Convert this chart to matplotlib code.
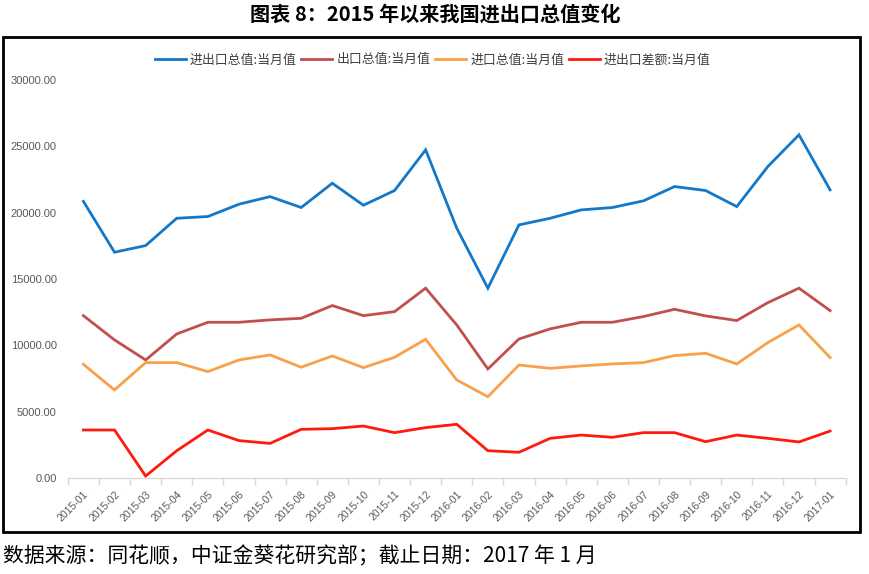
import matplotlib
matplotlib.use("Agg")
import matplotlib.pyplot as plt
from matplotlib.patches import Rectangle

plt.rcParams['font.family'] = ['Noto Sans CJK SC', 'DejaVu Sans']

months = ["2015-01", "2015-02", "2015-03", "2015-04", "2015-05", "2015-06", "2015-07",
          "2015-08", "2015-09", "2015-10", "2015-11", "2015-12", "2016-01", "2016-02",
          "2016-03", "2016-04", "2016-05", "2016-06", "2016-07", "2016-08", "2016-09",
          "2016-10", "2016-11", "2016-12", "2017-01"]

total = [20850, 17020, 17520, 19580, 19710, 20640, 21210, 20390, 22220, 20560, 21670, 24740,
         18830, 14310, 19080, 19580, 20210, 20390, 20890, 21970, 21670, 20460, 23480, 25870, 21720]
exports = [12240, 10410, 8900, 10860, 11740, 11740, 11920, 12040, 13000, 12240, 12540, 14310,
           11540, 8220, 10480, 11240, 11740, 11740, 12170, 12720, 12220, 11870, 13220, 14310, 12620]
imports = [8570, 6640, 8700, 8700, 8020, 8900, 9280, 8350, 9200, 8320, 9100, 10460,
           7390, 6130, 8520, 8270, 8450, 8600, 8700, 9230, 9400, 8600, 10210, 11540, 9080]
balance = [3620, 3620, 150, 2060, 3620, 2820, 2610, 3670, 3720, 3920, 3420, 3800,
           4050, 2060, 1940, 2990, 3240, 3070, 3420, 3420, 2740, 3240, 2990, 2720, 3540]

series_names = ["进出口总值:当月值", "出口总值:当月值", "进口总值:当月值", "进出口差额:当月值"]
colors = ["#1478C8", "#C0504D", "#F9A04A", "#FF1A10"]
yticks = [0, 5000, 10000, 15000, 20000, 25000, 30000]

fig = plt.figure(figsize=(8.7, 5.74), dpi=100)
ax = fig.add_axes([0.078, 0.1672, 0.894, 0.6934])

x = list(range(len(months)))
for vals, name, c in zip([total, exports, imports, balance], series_names, colors):
    ax.plot(x, vals, color=c, lw=2.0, label=name, solid_joinstyle='miter')

ax.set_xlim(-0.5, len(months) - 0.5)
ax.set_ylim(0, 30000)
ax.set_yticks(yticks)
ax.set_yticklabels([f"{v:.2f}" for v in yticks], fontsize=8, color="#595959",
                   family=['Liberation Sans', 'DejaVu Sans'])
ax.tick_params(axis='y', length=0, pad=8)

ax.set_xticks([i - 0.5 for i in range(len(months) + 1)])
ax.set_xticklabels([])
ax.set_xticks(x, minor=True)
ax.set_xticklabels(months, minor=True, rotation=45, ha='right', rotation_mode='anchor',
                   fontsize=7.5, color="#595959", family=['Liberation Sans', 'DejaVu Sans'])
ax.tick_params(axis='x', which='major', length=5, color="#D9D9D9", width=1)
ax.tick_params(axis='x', which='minor', length=0, pad=8)

for s in ['top', 'right', 'left']:
    ax.spines[s].set_visible(False)
ax.spines['bottom'].set_color("#D9D9D9")
ax.spines['bottom'].set_linewidth(1)

leg = ax.legend(loc='lower center', bbox_to_anchor=(0.469, 1.005), ncol=4, frameon=False,
                fontsize=9.3, handlelength=2.4, handletextpad=0.3, columnspacing=0.4)
for t in leg.get_texts():
    t.set_color("#404040")

fig.text(0.5, 0.975, "图表 8：2015 年以来我国进出口总值变化", ha='center', va='center',
         fontsize=14.5, fontweight='bold')
fig.add_artist(Rectangle((0.004, 1 - 532 / 574), (860 - 3) / 870, (532 - 37) / 574,
                         transform=fig.transFigure, fill=False, ec='black', lw=2))
fig.text(0.004, 1 - 556 / 574, "数据来源：同花顺，中证金葵花研究部；截止日期：2017 年 1 月",
         ha='left', va='center', fontsize=15)

fig.savefig("out.png", dpi=100)
